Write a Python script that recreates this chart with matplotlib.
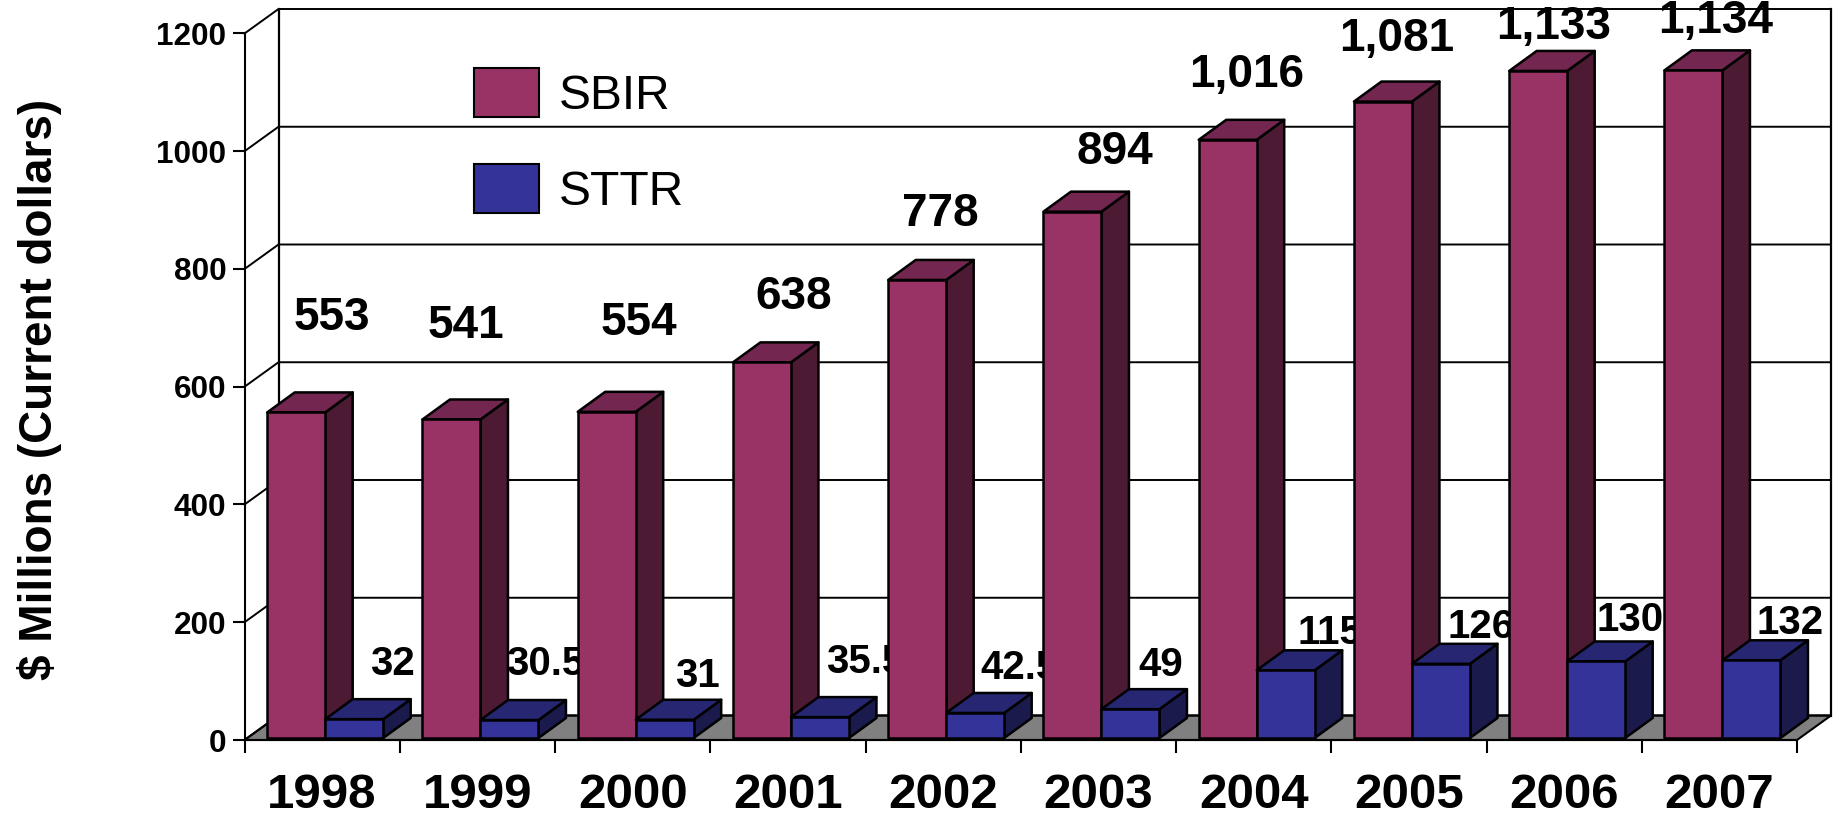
import matplotlib
matplotlib.use('Agg')
import matplotlib.pyplot as plt
from matplotlib.patches import Polygon, Patch

plt.rcParams['font.family'] = ['Liberation Sans', 'DejaVu Sans']

years = ['1998', '1999', '2000', '2001', '2002', '2003', '2004', '2005', '2006', '2007']
sbir = [553, 541, 554, 638, 778, 894, 1016, 1081, 1133, 1134]
sttr = [32, 30.5, 31, 35.5, 42.5, 49, 115, 126, 130, 132]
sbir_labels = ['553', '541', '554', '638', '778', '894', '1,016', '1,081', '1,133', '1,134']
sttr_labels = ['32', '30.5', '31', '35.5', '42.5', '49', '115', '126', '130', '132']
y_ticks = [0, 200, 400, 600, 800, 1000, 1200]

# label offsets from the bar top centre, in pixels (the original placed them by hand)
sbir_off_x = [36, 14, 32, 32, 23, 42, 19, 14, 15, 22]
sbir_off_y = [94, 93, 89, 65, 66, 60, 65, 63, 44, 49]
sttr_off_x = [38, 36, 33, 45, 44, 30, 44, 40, 34, 39]
sttr_off_y = [48, 49, 37, 48, 38, 37, 30, 30, 34, 30]

SBIR_COLS = ('#993366', '#4D1A33', '#732650')
STTR_COLS = ('#333399', '#1A1A4D', '#262673')

PX_X = 155.25          # pixels per category
PX_Y = 706.5 / 1200    # pixels per value unit
WALL_DX, WALL_DY = 34 / PX_X, 24.5 / PX_Y
BAR_DX, BAR_DY = 27.5 / PX_X, 20 / PX_Y
BAR_W = 58 / PX_X
BAR_OFF = 22.7 / PX_X
BASE = 2 / PX_Y


def bar3d(ax, x, val, cols, z):
    top = BASE + val
    kw = dict(edgecolor='black', linewidth=1.8, joinstyle='round', clip_on=False, zorder=z)
    ax.add_patch(Polygon([(x + BAR_W, BASE), (x + BAR_W + BAR_DX, BASE + BAR_DY),
                          (x + BAR_W + BAR_DX, top + BAR_DY), (x + BAR_W, top)], facecolor=cols[1], **kw))
    ax.add_patch(Polygon([(x, top), (x + BAR_W, top), (x + BAR_W + BAR_DX, top + BAR_DY),
                          (x + BAR_DX, top + BAR_DY)], facecolor=cols[2], **kw))
    ax.add_patch(Polygon([(x, BASE), (x + BAR_W, BASE), (x + BAR_W, top), (x, top)], facecolor=cols[0], **kw))


fig = plt.figure(figsize=(18.36, 8.13), dpi=100)
ax = fig.add_axes([244.5 / 1836, (813 - 740) / 813, 1552.5 / 1836, 706.5 / 813])
ax.set_xlim(0, 10)
ax.set_ylim(0, 1200)
for s in ['top', 'right']:
    ax.spines[s].set_visible(False)
for s in ['left', 'bottom']:
    ax.spines[s].set_linewidth(1.5)

# floor and walls
n = len(years)
ax.add_patch(Polygon([(0, 0), (n, 0), (n + WALL_DX, WALL_DY), (WALL_DX, WALL_DY)],
                     facecolor='#808080', edgecolor='black', linewidth=1.5, clip_on=False, zorder=1))
for v in y_ticks:
    ax.plot([0, WALL_DX, n + WALL_DX], [v, v + WALL_DY, v + WALL_DY], color='black', lw=1.4,
            clip_on=False, zorder=1.5)
ax.plot([WALL_DX, WALL_DX], [WALL_DY, 1200 + WALL_DY], color='black', lw=1.6, clip_on=False, zorder=1.5)
ax.plot([n + WALL_DX, n + WALL_DX], [WALL_DY, 1200 + WALL_DY], color='black', lw=1.6, clip_on=False, zorder=1.5)

# bars, each group overlaps the labels of the one before
for i in range(n):
    z = 3 + i
    x1 = i + BAR_OFF
    x2 = x1 + BAR_W
    ax.annotate(sttr_labels[i], (x2 + BAR_W / 2, BASE + sttr[i]), xytext=(sttr_off_x[i] / 100 * 72, (sttr_off_y[i] + 7) / 100 * 72),
                textcoords='offset points', ha='center', va='center', fontsize=29, fontweight='bold',
                zorder=z + 0.5, annotation_clip=False)
    ax.annotate(sbir_labels[i], (x1 + BAR_W / 2, BASE + sbir[i]), xytext=(sbir_off_x[i] / 100 * 72, sbir_off_y[i] / 100 * 72),
                textcoords='offset points', ha='center', va='center', fontsize=33, fontweight='bold',
                zorder=z + 0.5, annotation_clip=False)
    bar3d(ax, x1, sbir[i], SBIR_COLS, z)
    bar3d(ax, x2, sttr[i], STTR_COLS, z + 0.1)

ax.set_yticks(y_ticks)
ax.tick_params(axis='y', length=9, width=1.5, pad=4, labelsize=22.7)
for t in ax.get_yticklabels():
    t.set_fontweight('bold')
ax.set_xticks(range(n + 1))
ax.set_xticklabels([])
ax.set_xticks([i + 0.5 for i in range(n)], minor=True)
ax.set_xticklabels(years, minor=True, fontsize=35.5, fontweight='bold')
ax.tick_params(axis='x', which='major', length=9, width=1.5)
ax.tick_params(axis='x', which='minor', length=0, pad=24)

ax.set_ylabel('$ Millions (Current dollars)', fontsize=33, fontweight='bold')
ax.yaxis.set_label_coords((62 - 244.5) / 1552.5, (740 - 389) / 706.5)

leg = ax.legend(handles=[Patch(facecolor=SBIR_COLS[0], edgecolor='black', linewidth=1.5, label='SBIR'),
                         Patch(facecolor=STTR_COLS[0], edgecolor='black', linewidth=1.5, label='STTR')],
                loc='upper left', bbox_to_anchor=((474 - 244.5) / 1552.5, 1.0 - (68 - 33.5) / 706.5),
                frameon=False, fontsize=34.5, handlelength=1.35, handleheight=1.2,
                handletextpad=0.42, labelspacing=0.95, borderaxespad=0, borderpad=0)
leg.set_zorder(20)

fig.savefig('out.png', dpi=100)
